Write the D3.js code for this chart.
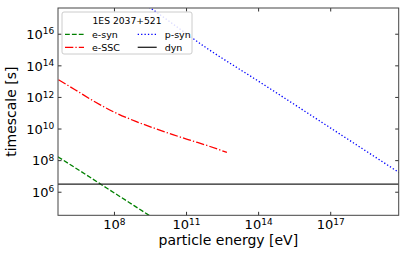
<!DOCTYPE html>
<html>
<head>
<meta charset="utf-8">
<script src="https://cdn.jsdelivr.net/npm/d3@7/dist/d3.min.js"></script>
<style>
  body { margin: 0; background: #fff; }
  svg { font-family: "DejaVu Sans", sans-serif; }
</style>
</head>
<body>
<svg id="chart" width="411" height="257"></svg>
<script>
// log10 of particle energy [eV] and log10 of timescale [s]
var eSyn = [[5.65, 8.24], [7.0, 6.93], [8.0, 5.95], [9.0, 4.97], [10.0, 3.99]];
var eSSC = [[5.67, 13.12], [6.36, 12.49], [7.2, 11.71], [8.03, 11.04], [8.86, 10.5],
            [9.7, 10.03], [10.46, 9.63], [11.2, 9.27], [11.85, 8.96], [12.68, 8.52]];
var pSyn = [[9.2, 17.95], [9.49, 17.66], [11.85, 15.11], [14.0, 13.02], [17.0, 10.06], [19.85, 7.24]];
var dynT = 6.51;

var xTicks = [8, 11, 14, 17];
var yTicks = [6, 8, 10, 12, 14, 16];
var legendTitle = "1ES 2037+521";

var svg = d3.select("#chart");
var margin = {top: 8, right: 12.3, bottom: 41.7, left: 58},
    width = 411 - margin.left - margin.right,
    height = 257 - margin.top - margin.bottom;

var x = d3.scaleLinear().domain([5.65, 19.83]).range([0, width]);
var y = d3.scaleLinear().domain([4.54, 17.66]).range([height, 0]);

var g = svg.append("g").attr("transform", "translate(" + margin.left + "," + margin.top + ")");

g.append("clipPath").attr("id", "clip")
  .append("rect").attr("width", width).attr("height", height);

var plot = g.append("g").attr("clip-path", "url(#clip)");

var line = d3.line()
  .curve(d3.curveMonotoneX)
  .x(function(d) { return x(d[0]); })
  .y(function(d) { return y(d[1]); });

var series = [
  {name: "e-syn", data: eSyn, color: "#008000", dash: "4.8,2.1"},
  {name: "e-SSC", data: eSSC, color: "#ff0000", dash: "8.3,2.1,1.3,2.1"},
  {name: "p-syn", data: pSyn, color: "#0000ff", dash: "1.3,2.1"}
];

series.forEach(function(s) {
  plot.append("path")
    .datum(s.data)
    .attr("fill", "none")
    .attr("stroke", s.color)
    .attr("stroke-width", 1.3)
    .attr("stroke-dasharray", s.dash)
    .attr("d", line);
});

plot.append("line")
  .attr("x1", 0).attr("x2", width)
  .attr("y1", y(dynT)).attr("y2", y(dynT))
  .attr("stroke", "#222").attr("stroke-width", 1.1);

// ticks (inward, all four sides)
var tl = 3.5;
xTicks.forEach(function(t) {
  g.append("line").attr("x1", x(t)).attr("x2", x(t)).attr("y1", height).attr("y2", height - tl).attr("stroke", "#333");
  g.append("line").attr("x1", x(t)).attr("x2", x(t)).attr("y1", 0).attr("y2", tl).attr("stroke", "#333");
  var tx = g.append("text")
    .attr("x", x(t)).attr("y", height + 14)
    .attr("text-anchor", "middle")
    .attr("font-size", 13)
    .attr("fill", "#000");
  tx.append("tspan").text("10");
  tx.append("tspan").attr("dy", -4.5).attr("font-size", 9).text(t);
});
yTicks.forEach(function(t) {
  g.append("line").attr("x1", 0).attr("x2", tl).attr("y1", y(t)).attr("y2", y(t)).attr("stroke", "#333");
  g.append("line").attr("x1", width).attr("x2", width - tl).attr("y1", y(t)).attr("y2", y(t)).attr("stroke", "#333");
  var ty = g.append("text")
    .attr("x", -3.7).attr("y", y(t) + 4.7)
    .attr("text-anchor", "end")
    .attr("font-size", 13)
    .attr("fill", "#000");
  ty.append("tspan").text("10");
  ty.append("tspan").attr("dy", -4.5).attr("font-size", 9).text(t);
});

g.append("rect")
  .attr("width", width).attr("height", height)
  .attr("fill", "none").attr("stroke", "#444").attr("stroke-width", 1);

// axis labels
svg.append("text")
  .attr("x", margin.left + width / 2).attr("y", 245)
  .attr("text-anchor", "middle").attr("font-size", 14)
  .text("particle energy [eV]");
svg.append("text")
  .attr("transform", "translate(15.5," + (margin.top + height / 2) + ") rotate(-90)")
  .attr("text-anchor", "middle").attr("font-size", 14)
  .text("timescale [s]");

// legend
var lg = svg.append("g");
lg.append("rect")
  .attr("x", 62).attr("y", 12).attr("width", 130).attr("height", 42).attr("rx", 2)
  .attr("fill", "#fff").attr("fill-opacity", 0.85).attr("stroke", "#ccc");
lg.append("text")
  .attr("x", 127).attr("y", 23.5).attr("text-anchor", "middle").attr("font-size", 9.2)
  .text(legendTitle);

var items = [
  {s: series[0], col: 0, row: 0},
  {s: series[1], col: 0, row: 1},
  {s: series[2], col: 1, row: 0},
  {s: {name: "dyn", color: "#222", dash: null}, col: 1, row: 1}
];
items.forEach(function(it) {
  var lx = 65 + it.col * 72.7, ly = 34.3 + it.row * 13;
  lg.append("line")
    .attr("x1", lx).attr("x2", lx + 19).attr("y1", ly).attr("y2", ly)
    .attr("stroke", it.s.color).attr("stroke-width", 1.3)
    .attr("stroke-dasharray", it.s.dash);
  lg.append("text")
    .attr("x", lx + 27).attr("y", ly + 3.4).attr("font-size", 9.5)
    .text(it.s.name);
});
</script>
</body>
</html>
